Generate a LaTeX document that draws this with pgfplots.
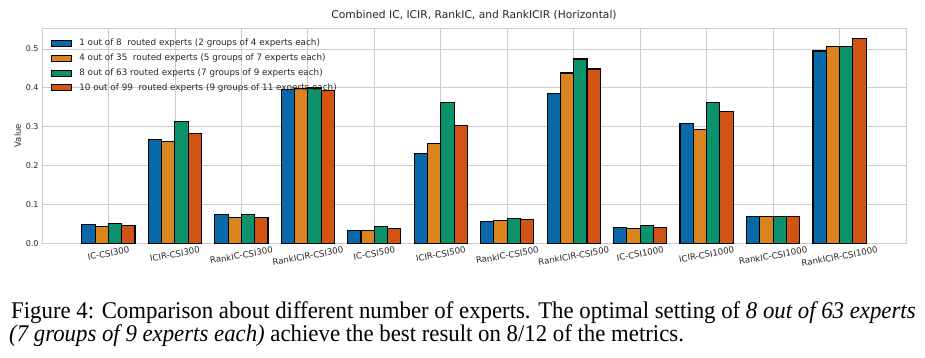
\documentclass[border=0pt]{standalone}
\usepackage{fontspec}
\setmainfont{DejaVu Sans}
\newfontfamily\capfont{Liberation Serif}
\usepackage{graphicx}
\usepackage{pgfplots}
\pgfplotsset{compat=1.18}
\definecolor{cA}{HTML}{0868A8}
\definecolor{cB}{HTML}{DA8420}
\definecolor{cC}{HTML}{0C926B}
\definecolor{cD}{HTML}{D15415}
\definecolor{gridgray}{HTML}{CCCCCC}
\definecolor{txt}{HTML}{262626}
\newcommand\rl[1]{\rotatebox{10}{#1}}
\begin{document}
\begin{tikzpicture}
\path[use as bounding box] (-42pt,-114.7pt) rectangle (883pt,243.3pt);
\begin{axis}[
  scale only axis, width=864pt, height=215.3pt,
  xmin=-1, xmax=12, ymin=0, ymax=0.554,
  ybar, bar width=0.2,
  xtick={0,1,2,3,4,5,6,7,8,9,10,11},
  xticklabels={\rl{IC-CSI300},\rl{ICIR-CSI300},\rl{RankIC-CSI300},\rl{RankICIR-CSI300},\rl{IC-CSI500},\rl{ICIR-CSI500},\rl{RankIC-CSI500},\rl{RankICIR-CSI500},\rl{IC-CSI1000},\rl{ICIR-CSI1000},\rl{RankIC-CSI1000},\rl{RankICIR-CSI1000}},
  xticklabel style={anchor=north, inner sep=0pt, yshift=-3pt, text=txt, font=\fontsize{8.6}{9}\selectfont},
  ytick={0,0.1,0.2,0.3,0.4,0.5},
  yticklabel style={anchor=east, inner sep=0pt, xshift=-3.3pt, text=txt, font=\fontsize{8}{9}\selectfont,
    /pgf/number format/.cd, fixed, fixed zerofill, precision=1, assume math mode=true},
  grid=major, major grid style={draw=gridgray, line width=0.8pt},
  axis line style={draw=gridgray, line width=0.8pt},
  major tick length=0pt, tick style={draw=none},
  title={Combined IC, ICIR, RankIC, and RankICIR (Horizontal)},
  title style={at={(axis description cs:0.5,1)}, anchor=base, yshift=3.5pt, inner sep=0pt, text=txt, font=\fontsize{10.7}{12}\selectfont},
  ylabel={Value},
  ylabel style={at={(axis description cs:-0.028,0.5)}, anchor=center, inner sep=0pt, text=txt, font=\fontsize{8.5}{9}\selectfont},
  legend image code/.code={\draw[#1, bar shift=0pt] (0pt,-3pt) rectangle (19.7pt,3pt);},
  legend cell align=left,
  legend style={at={(axis description cs:0,1)}, anchor=north west, xshift=9pt, yshift=-11.5pt,
    draw=none, fill=none, inner sep=0pt, row sep=6.4pt, column sep=7.3pt,
    font=\fontsize{8.8}{9}\selectfont, text=txt,
    nodes={inner sep=0pt, text height=6.3pt, text depth=2pt}},
]
\addplot[fill=cA, draw=black, line width=1.1pt, bar shift=-0.3] coordinates {
(0,0.049) (1,0.268) (2,0.0747) (3,0.395) (4,0.0335) (5,0.232) (6,0.0567) (7,0.3866) (8,0.0412) (9,0.3093) (10,0.0696) (11,0.4948)};
\addplot[fill=cB, draw=black, line width=1.1pt, bar shift=-0.1] coordinates {
(0,0.044) (1,0.263) (2,0.067) (3,0.3977) (4,0.0335) (5,0.2577) (6,0.0593) (7,0.4381) (8,0.0387) (9,0.2938) (10,0.0696) (11,0.5067)};
\addplot[fill=cC, draw=black, line width=1.1pt, bar shift=0.1] coordinates {
(0,0.0515) (1,0.3145) (2,0.0747) (3,0.3995) (4,0.0438) (5,0.3634) (6,0.0644) (7,0.4742) (8,0.0464) (9,0.3634) (10,0.0696) (11,0.5067)};
\addplot[fill=cD, draw=black, line width=1.1pt, bar shift=0.3] coordinates {
(0,0.046) (1,0.2835) (2,0.067) (3,0.3925) (4,0.0387) (5,0.304) (6,0.0619) (7,0.4485) (8,0.0412) (9,0.340) (10,0.0696) (11,0.5273)};
\legend{1 out of 8\ \ routed experts (2 groups of 4 experts each),
4 out of 35\ \ routed experts (5 groups of 7 experts each),
8 out of 63 routed experts (7 groups of 9 experts each),
10 out of 99\ \ routed experts (9 groups of 11 experts each)}
\end{axis}
\node[anchor=base west, inner sep=0pt] at (-31pt,-75pt) {\scalebox{1}[1.05]{\capfont\fontsize{22.8}{22.8}\selectfont Figure 4: Comparison about different number of experts. The optimal setting of \textit{8 out of 63 experts}}};
\node[anchor=base west, inner sep=0pt] at (-33pt,-98.4pt) {\scalebox{1}[1.05]{\capfont\fontsize{22.8}{22.8}\selectfont \textit{(7 groups of 9 experts each)} achieve the best result on 8/12 of the metrics.}};
\end{tikzpicture}
\end{document}
